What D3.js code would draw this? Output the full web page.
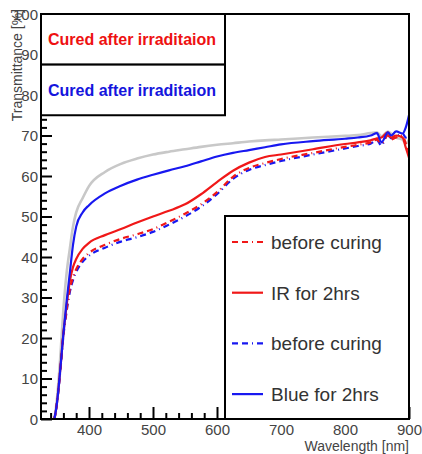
<!DOCTYPE html>
<html>
<head>
<meta charset="utf-8">
<script src="https://cdn.jsdelivr.net/npm/d3@7"></script>
<style>
  body { margin: 0; background: #fff; }
  svg { font-family: "Liberation Sans", Arial, sans-serif; }
</style>
</head>
<body>
<div id="chart"></div>
<script>
// wavelengths (nm) shared by every curve
var wavelength = [346, 350, 355, 360, 365, 370, 375, 380, 390, 400, 425, 450, 475, 500, 525, 550, 575, 600, 625, 650, 675, 700, 750, 800, 820, 840, 850, 857, 867, 872, 880, 890, 895, 900];

var reference   = [0, 5, 15, 27, 36, 42, 47.5, 51, 54.5, 57.5, 61, 63, 64.3, 65.3, 66, 66.6, 67.2, 67.7, 68.1, 68.5, 68.8, 69, 69.5, 69.9, 70.1, 70.6, 70.8, 69.8, 71, 70.5, 69.5, 69, 68, 69];
var blueCured   = [0, 4, 12, 21, 29, 36, 43, 47.5, 51, 52.8, 55.7, 57.6, 59.1, 60.3, 61.4, 62.4, 63.6, 64.8, 65.7, 66.4, 67.1, 67.8, 68.6, 69.2, 69.5, 70, 70.6, 68.3, 70.8, 70, 71, 70.5, 72, 75];
var irCured     = [0, 4, 12, 21, 28, 34, 37.5, 39.5, 42, 43.5, 45.4, 46.9, 48.5, 50, 51.4, 53, 55.5, 58.5, 61.3, 63.3, 64.7, 65.3, 66.6, 67.9, 68.3, 68.8, 69.3, 69.5, 70.8, 69.5, 70, 69.5, 67, 64.5];
var irBefore    = [0, 4, 12, 21, 27, 32, 35, 37, 39.5, 41, 43, 44.5, 45.6, 46.9, 48.7, 50.7, 53, 56, 59.8, 62, 63.2, 64.2, 65.7, 67.2, 67.7, 68.3, 69, 68, 70, 69, 69.5, 70, 68, 66];
var blueBefore  = [0, 4, 11.5, 20.5, 26.5, 31.3, 34.3, 36.3, 38.8, 40.3, 42.3, 43.8, 44.9, 46.2, 48, 50, 52.4, 55.5, 59.3, 61.5, 62.7, 63.7, 65.3, 66.8, 67.4, 68, 68.8, 67.5, 70.5, 69.3, 69.8, 70.5, 69.5, 70];

var headers = ["Cured after irraditaion", "Cured after irraditaion"];
var legendLabels = ["before curing", "IR for 2hrs", "before curing", "Blue for 2hrs"];
var xTicks = [400, 500, 600, 700, 800, 900];
var yTicks = [0, 10, 20, 30, 40, 50, 60, 70, 80, 90, 100];

var red = "#f01818", blue = "#1818f0", grey = "#c8c8c8";
var dash = "6,4,6,4,1,4";

var series = [
  {vals: reference, color: grey, dash: null, w: 2.6},
  {vals: blueBefore, color: blue, dash: dash, w: 2.2},
  {vals: irBefore, color: red, dash: dash, w: 2.2},
  {vals: irCured, color: red, dash: null, w: 2.2},
  {vals: blueCured, color: blue, dash: null, w: 2.2}
];
var legendStyle = [
  {color: red, dash: dash},
  {color: red, dash: null},
  {color: blue, dash: dash},
  {color: blue, dash: null}
];

var W = 422, H = 454;
var pLeft = 41, pRight = 409, pTop = 14, pBottom = 419;

var x = d3.scaleLinear().domain([325, 900]).range([pLeft, pRight]);
var y = d3.scaleLinear().domain([0, 100]).range([pBottom, pTop]);

var svg = d3.select("#chart").append("svg")
  .attr("width", W)
  .attr("height", H);

svg.append("defs").append("clipPath").attr("id", "plot")
  .append("rect")
  .attr("x", pLeft).attr("y", pTop)
  .attr("width", pRight - pLeft).attr("height", pBottom - pTop);

// axes, ticks pointing inward
var minorX = d3.range(340, 901, 20).filter(v => xTicks.indexOf(v) < 0);
var minorY = d3.range(0, 101, 2).filter(v => v % 10 != 0);

svg.append("g")
  .attr("transform", "translate(0," + pBottom + ")")
  .call(d3.axisBottom(x).tickValues(minorX).tickFormat("").tickSizeInner(-6).tickSizeOuter(0))
  .call(g => g.select(".domain").remove());

svg.append("g")
  .attr("class", "xaxis")
  .attr("transform", "translate(0," + pBottom + ")")
  .call(d3.axisBottom(x).tickValues(xTicks).tickSizeInner(-12).tickSizeOuter(0).tickPadding(5))
  .call(g => g.select(".domain").remove());

svg.append("g")
  .attr("transform", "translate(" + pLeft + ",0)")
  .call(d3.axisLeft(y).tickValues(minorY).tickFormat("").tickSizeInner(-6).tickSizeOuter(0))
  .call(g => g.select(".domain").remove());

svg.append("g")
  .attr("class", "yaxis")
  .attr("transform", "translate(" + pLeft + ",0)")
  .call(d3.axisLeft(y).tickValues(yTicks).tickSizeInner(-11).tickSizeOuter(0).tickPadding(3))
  .call(g => g.select(".domain").remove());

svg.selectAll(".tick line").attr("stroke", "#000").attr("stroke-width", 2);
svg.selectAll(".xaxis text, .yaxis text")
  .attr("font-size", 15)
  .attr("fill", "#444")
  .attr("font-family", "Liberation Sans, Arial, sans-serif");
svg.selectAll(".yaxis text").attr("dy", "0.36em");

// curves
var line = d3.line()
  .x((d, i) => x(wavelength[i]))
  .y(d => y(d))
  .curve(d3.curveMonotoneX);

svg.append("g")
  .attr("clip-path", "url(#plot)")
  .selectAll("path")
  .data(series)
  .enter().append("path")
  .attr("d", d => line(d.vals))
  .attr("fill", "none")
  .attr("stroke", d => d.color)
  .attr("stroke-width", d => d.w)
  .attr("stroke-dasharray", d => d.dash)
  .attr("stroke-linejoin", "round");

// frame
svg.append("rect")
  .attr("x", pLeft).attr("y", pTop)
  .attr("width", pRight - pLeft).attr("height", pBottom - pTop)
  .attr("fill", "none")
  .attr("stroke", "#000")
  .attr("stroke-width", 2);

// header boxes
var hdr = svg.append("g");
headers.forEach(function(t, i) {
  hdr.append("rect")
    .attr("x", pLeft).attr("y", y(100 - i * 12.5))
    .attr("width", 225 - pLeft)
    .attr("height", y(0) - y(12.5))
    .attr("fill", "#fff")
    .attr("stroke", "#000")
    .attr("stroke-width", 2);
  hdr.append("text")
    .attr("x", 48)
    .attr("y", y(100 - i * 12.5 - 6.25))
    .attr("dy", "0.36em")
    .attr("font-size", 16)
    .attr("font-weight", "bold")
    .attr("fill", i == 0 ? "#ee1111" : "#1515dd")
    .text(t);
});

// series legend
var lg = svg.append("g");
lg.append("rect")
  .attr("x", 225).attr("y", 216)
  .attr("width", pRight - 225).attr("height", pBottom - 216)
  .attr("fill", "#fff")
  .attr("stroke", "#000")
  .attr("stroke-width", 2);

var entry = lg.selectAll(".entry")
  .data(legendLabels)
  .enter().append("g")
  .attr("class", "entry")
  .attr("transform", (d, i) => "translate(232," + (242 + i * 50.7) + ")");

entry.append("line")
  .attr("x1", 0).attr("x2", 31)
  .attr("stroke", (d, i) => legendStyle[i].color)
  .attr("stroke-width", 2.2)
  .attr("stroke-dasharray", (d, i) => legendStyle[i].dash);

entry.append("text")
  .attr("x", 39)
  .attr("dy", "0.36em")
  .attr("font-size", 19)
  .attr("fill", "#333")
  .text(d => d);

// axis titles
svg.append("text")
  .attr("transform", "translate(22,9) rotate(-90)")
  .attr("text-anchor", "end")
  .attr("font-size", 14)
  .attr("fill", "#444")
  .text("Transmittance [%]");

svg.append("text")
  .attr("x", pRight)
  .attr("y", 451)
  .attr("text-anchor", "end")
  .attr("font-size", 14)
  .attr("fill", "#444")
  .text("Wavelength [nm]");
</script>
</body>
</html>
